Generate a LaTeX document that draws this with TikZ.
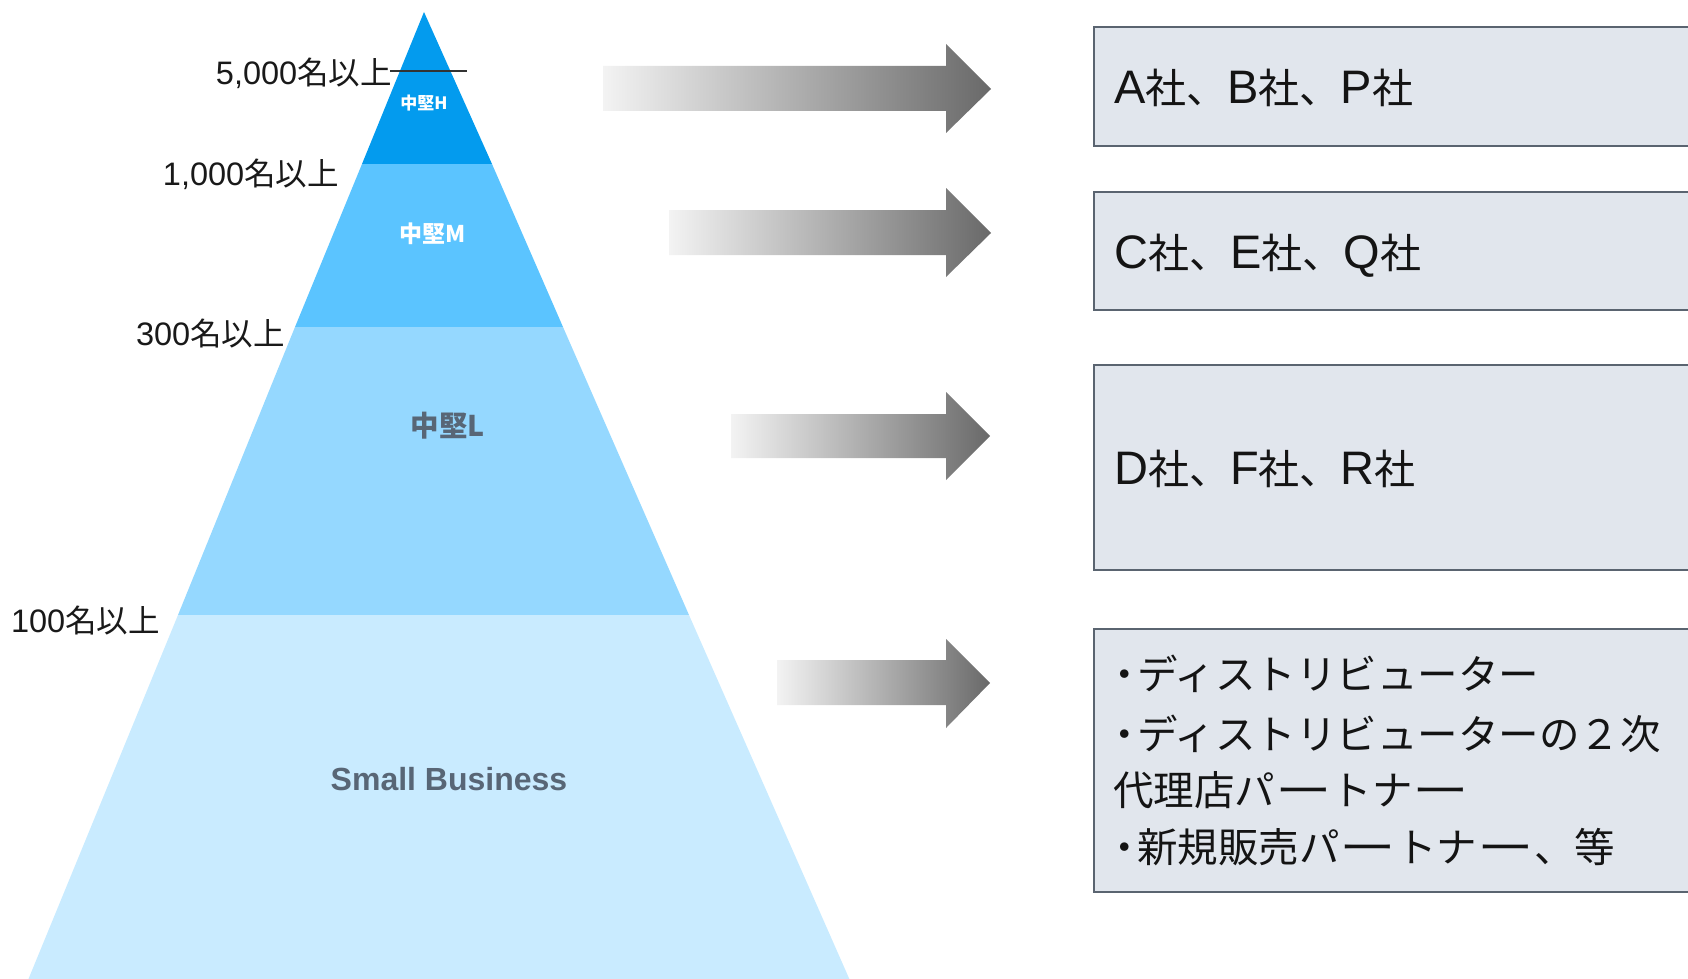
\documentclass[tikz,border=0pt]{standalone}
\usepackage{fontspec}
\usepackage{graphicx}
\setmainfont{Liberation Sans}
\newfontfamily\jp{Noto Sans CJK JP}
\definecolor{tierH}{RGB}{3,155,238}
\definecolor{tierM}{RGB}{91,196,255}
\definecolor{tierL}{RGB}{149,216,255}
\definecolor{tierS}{RGB}{201,235,255}
\definecolor{tiertext}{RGB}{88,102,118}
\definecolor{boxfill}{RGB}{225,230,237}
\definecolor{boxline}{RGB}{90,100,112}
\definecolor{arrowlight}{RGB}{243,243,243}
\definecolor{arrowdark}{RGB}{105,105,105}
\newcommand{\jpb}[1]{{\jp\fontsize{41}{57}\selectfont #1}}
\newcommand{\jpl}[1]{{\jp\fontsize{31.5}{36}\selectfont #1}}
\newcommand{\dotmark}{\makebox[24pt]{\jp ・}}
\newcommand{\wbar}{\scalebox{1.4}[1]{ー}}
\tikzset{
  lvl/.style={font=\fontsize{32.5}{36}\selectfont, text=black!90, inner sep=0pt, anchor=base east},
  tier/.style={inner sep=0pt, font=\jp\bfseries},
  infobox/.style={draw=boxline, line width=2.2pt, fill=boxfill, inner sep=0pt},
  boxtext/.style={inner sep=0pt, anchor=base west, font=\fontsize{47}{57}\selectfont, text=black!92},
  listline/.style={inner sep=0pt, anchor=base west, font=\jp\fontsize{40.5}{57}\selectfont, text=black!92},
  grad/.style={left color=arrowlight, right color=arrowdark}
}
\begin{document}
\begin{tikzpicture}[x=1pt,y=-1pt]
\useasboundingbox (0,0) rectangle (1688,979);
\clip (0,0) rectangle (1688,979);
% pyramid
\fill[tierH] (424,12) -- (492,164) -- (362,164) -- cycle;
\fill[tierM] (362,164) -- (492,164) -- (563,327) -- (295,327) -- cycle;
\fill[tierL] (295,327) -- (563,327) -- (689,615) -- (178,615) -- cycle;
\fill[tierS] (178,615) -- (689,615) -- (852,985) -- (26,985) -- cycle;
\node[tier, text=white, font=\jp\bfseries\fontsize{17}{20}\selectfont] (tH) at (424,103) {中堅H};
\node[tier, text=white, font=\jp\bfseries\fontsize{23}{26}\selectfont] (tM) at (433,234) {中堅M};
\node[tier, text=tiertext, font=\jp\bfseries\fontsize{28.5}{32}\selectfont] (tL) at (448,426) {中堅L};
\node[tier, text=tiertext, font=\bfseries\fontsize{32}{36}\selectfont] (tS) at (449,779) {Small Business};
% level labels
\node[lvl] (l5000) at (392,85) {5,000\jpl{名以上}};
\coordinate (ln1) at (390,71);
\coordinate (ln2) at (467,71);
\draw[black!80, line width=1.4pt] (ln1) -- (ln2);
\node[lvl] (l1000) at (339,185) {1,000\jpl{名以上}};
\node[lvl] (l300) at (285,345) {300\jpl{名以上}};
\node[lvl] (l100) at (160,632) {100\jpl{名以上}};
% arrows
\shade[grad] (603,66) -- (946,66) -- (946,44) -- (991,89) -- (946,133) -- (946,111) -- (603,111) -- cycle;
\shade[grad] (669,210) -- (946,210) -- (946,188) -- (991,233) -- (946,277) -- (946,255) -- (669,255) -- cycle;
\shade[grad] (731,414) -- (946,414) -- (946,392) -- (990,436) -- (946,480) -- (946,458) -- (731,458) -- cycle;
\shade[grad] (777,660) -- (946,660) -- (946,639) -- (990,683) -- (946,728) -- (946,705) -- (777,705) -- cycle;
% boxes
\node[infobox, minimum width=620pt, minimum height=119pt, anchor=north west] (b1) at (1093,26) {};
\node[infobox, minimum width=620pt, minimum height=118pt, anchor=north west] (b2) at (1093,191) {};
\node[infobox, minimum width=620pt, minimum height=205pt, anchor=north west] (b3) at (1093,364) {};
\node[infobox, minimum width=620pt, minimum height=263pt, anchor=north west] (b4) at (1093,628) {};
\node[boxtext] (t1) at (1114,103) {A\jpb{社、}B\jpb{社、}P\jpb{社}};
\node[boxtext] (t2) at (1114,268) {C\jpb{社、}E\jpb{社、}Q\jpb{社}};
\node[boxtext] (t3) at (1114,484) {D\jpb{社、}F\jpb{社、}R\jpb{社}};
\node[listline] (t4a) at (1113,689) {\dotmark ディストリビューター};
\node[listline] (t4b) at (1113,749) {\dotmark ディストリビューターの２次};
\node[listline] (t4c) at (1113,805) {代理店パ\wbar トナ\wbar};
\node[listline] (t4d) at (1113,862) {\dotmark 新規販売パ\wbar トナ\wbar 、等};
\end{tikzpicture}
\end{document}
